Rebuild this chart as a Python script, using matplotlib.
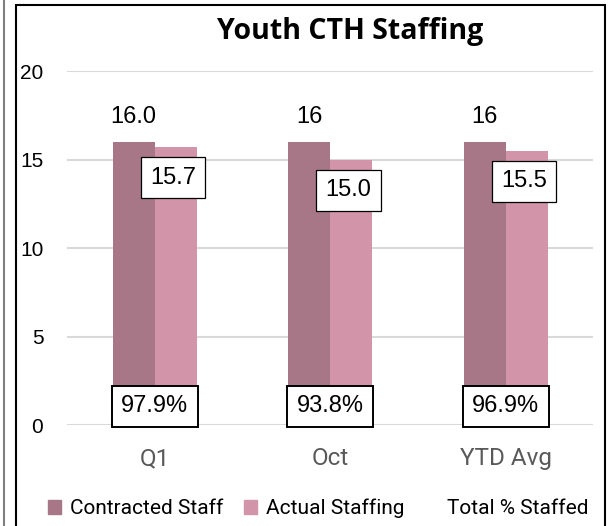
import matplotlib.pyplot as plt
from matplotlib.patches import Patch, Rectangle
from matplotlib.lines import Line2D
import numpy as np

# Data
categories = ["Q1", "Oct", "YTD Avg"]
contracted = [16.0, 16.0, 16.0]
actual = [15.7, 15.0, 15.5]
contracted_labels = ["16.0", "16", "16"]
actual_labels = ["15.7", "15.0", "15.5"]
pct_staffed = [97.9, 93.8, 96.9]

c_contracted = "#A87787"
c_actual = "#D294A9"

fig = plt.figure(figsize=(6.14, 5.26), dpi=100)
ax = fig.add_axes([0.109, 0.192, 0.8576, 0.673])

x = np.arange(len(categories))
w = 0.24
ax.bar(x - w / 2, contracted, w, color=c_contracted, zorder=2)
ax.bar(x + w / 2, actual, w, color=c_actual, zorder=2)

ax.set_xlim(-0.5, 2.5)
ax.set_ylim(0, 20)
ax.set_yticks([0, 5, 10, 15, 20])
ax.set_yticklabels(["0", "5", "10", "15", "20"], fontsize=15, fontfamily="Liberation Sans")
ax.grid(axis="y", color="#d9d9d9", linewidth=1.5, zorder=0)
for s in ax.spines.values():
    s.set_visible(False)
ax.tick_params(length=0)
ax.tick_params(axis="y", pad=17)
ax.set_xticks(x)
ax.set_xticklabels(categories, fontsize=17.5, color="#595959", fontfamily="Roboto")
ax.tick_params(axis="x", pad=16)

# Data labels
for i in range(len(categories)):
    ax.annotate(contracted_labels[i], (x[i] - w / 2, contracted[i]), xytext=(0, 10),
                textcoords="offset points", ha="center", va="bottom",
                fontsize=17, fontfamily="Liberation Sans")
    ax.annotate(actual_labels[i], (x[i] + w / 2, actual[i]), xytext=(-2, -22),
                textcoords="offset points", ha="center", va="center",
                fontsize=17, fontfamily="Liberation Sans",
                bbox=dict(boxstyle="square,pad=0.4", fc="white", ec="black", lw=0.9))
    ax.annotate(f"{pct_staffed[i]:.1f}%", (x[i], 0), xytext=(0, 13.5),
                textcoords="offset points", ha="center", va="center",
                fontsize=17, fontfamily="Liberation Sans", zorder=5,
                bbox=dict(boxstyle="square,pad=0.4", fc="white", ec="black", lw=1.4))

# Title
fig.text(0.57, 0.94, "Youth CTH Staffing", ha="center", va="center",
         fontsize=20.5, fontweight="bold", fontfamily="Open Sans")

# Legend
handles = [Patch(color=c_contracted), Patch(color=c_actual), Line2D([], [], color="none")]
fig.legend(handles, ["Contracted Staff", "Actual Staffing", "Total % Staffed"],
           loc="center", bbox_to_anchor=(0.518, 0.033), ncol=3, frameon=False,
           prop=dict(family="Roboto", size=15), handlelength=0.65, handleheight=0.65,
           handletextpad=0.4, columnspacing=1.0)

# Frame lines
fig.add_artist(Rectangle((16 / 614, -0.05), (605 - 16) / 614, 1.05 - 5 / 526,
                         transform=fig.transFigure, fill=False, ec="black", lw=1.5))
fig.add_artist(Line2D([4 / 614, 4 / 614], [0, 1], transform=fig.transFigure,
                      color="#808080", lw=1.5))

fig.savefig("out.png", dpi=100)
